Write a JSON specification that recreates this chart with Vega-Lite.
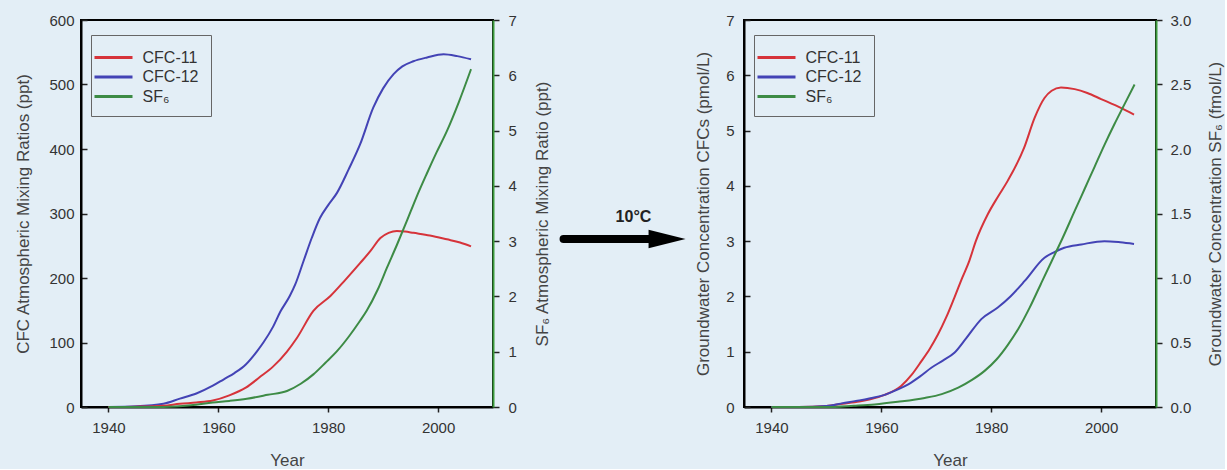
{
  "$schema": "https://vega.github.io/schema/vega-lite/v6.json",
  "background": "#e3eef6",
  "padding": {"left": 13, "top": 12, "right": 0, "bottom": 0},
  "spacing": 0,
  "datasets": {
    "atm_cfc": [
      {"year": 1940, "series": "CFC-12", "value": 0},
      {"year": 1945, "series": "CFC-12", "value": 1},
      {"year": 1950, "series": "CFC-12", "value": 5},
      {"year": 1953, "series": "CFC-12", "value": 13},
      {"year": 1956, "series": "CFC-12", "value": 21},
      {"year": 1959, "series": "CFC-12", "value": 33},
      {"year": 1961, "series": "CFC-12", "value": 43},
      {"year": 1963, "series": "CFC-12", "value": 53},
      {"year": 1965, "series": "CFC-12", "value": 66},
      {"year": 1967, "series": "CFC-12", "value": 86},
      {"year": 1968.2, "series": "CFC-12", "value": 100},
      {"year": 1970, "series": "CFC-12", "value": 125},
      {"year": 1971.3, "series": "CFC-12", "value": 148},
      {"year": 1973, "series": "CFC-12", "value": 172},
      {"year": 1974, "series": "CFC-12", "value": 190},
      {"year": 1975.5, "series": "CFC-12", "value": 226},
      {"year": 1977, "series": "CFC-12", "value": 262},
      {"year": 1978.5, "series": "CFC-12", "value": 293},
      {"year": 1980, "series": "CFC-12", "value": 313},
      {"year": 1981.6, "series": "CFC-12", "value": 332},
      {"year": 1983.7, "series": "CFC-12", "value": 368},
      {"year": 1985.8, "series": "CFC-12", "value": 407},
      {"year": 1988.2, "series": "CFC-12", "value": 464},
      {"year": 1990, "series": "CFC-12", "value": 494},
      {"year": 1991.9, "series": "CFC-12", "value": 516},
      {"year": 1993.5, "series": "CFC-12", "value": 528},
      {"year": 1995.5, "series": "CFC-12", "value": 536},
      {"year": 1998, "series": "CFC-12", "value": 542},
      {"year": 2001, "series": "CFC-12", "value": 547},
      {"year": 2003.5, "series": "CFC-12", "value": 544},
      {"year": 2006, "series": "CFC-12", "value": 539},
      {"year": 1940, "series": "CFC-11", "value": 0},
      {"year": 1945, "series": "CFC-11", "value": 0.5},
      {"year": 1950, "series": "CFC-11", "value": 2},
      {"year": 1953, "series": "CFC-11", "value": 5},
      {"year": 1956, "series": "CFC-11", "value": 7},
      {"year": 1959, "series": "CFC-11", "value": 10},
      {"year": 1962, "series": "CFC-11", "value": 18},
      {"year": 1965, "series": "CFC-11", "value": 30},
      {"year": 1967.5, "series": "CFC-11", "value": 46},
      {"year": 1970, "series": "CFC-11", "value": 63},
      {"year": 1972.5, "series": "CFC-11", "value": 86},
      {"year": 1974.3, "series": "CFC-11", "value": 107},
      {"year": 1977.3, "series": "CFC-11", "value": 149},
      {"year": 1980.4, "series": "CFC-11", "value": 172},
      {"year": 1983, "series": "CFC-11", "value": 196},
      {"year": 1985.8, "series": "CFC-11", "value": 223},
      {"year": 1987.7, "series": "CFC-11", "value": 242},
      {"year": 1989.5, "series": "CFC-11", "value": 262},
      {"year": 1991, "series": "CFC-11", "value": 270},
      {"year": 1992.5, "series": "CFC-11", "value": 273},
      {"year": 1994, "series": "CFC-11", "value": 272},
      {"year": 1995.5, "series": "CFC-11", "value": 270},
      {"year": 1998.5, "series": "CFC-11", "value": 266},
      {"year": 2001.6, "series": "CFC-11", "value": 260},
      {"year": 2004, "series": "CFC-11", "value": 255},
      {"year": 2006, "series": "CFC-11", "value": 249}
    ],
    "atm_sf6": [
      {"year": 1940, "series": "SF₆", "value": 0},
      {"year": 1950, "series": "SF₆", "value": 0},
      {"year": 1955, "series": "SF₆", "value": 0.03},
      {"year": 1959, "series": "SF₆", "value": 0.08},
      {"year": 1962, "series": "SF₆", "value": 0.11},
      {"year": 1965.2, "series": "SF₆", "value": 0.15},
      {"year": 1969, "series": "SF₆", "value": 0.22},
      {"year": 1972.5, "series": "SF₆", "value": 0.29},
      {"year": 1975, "series": "SF₆", "value": 0.42},
      {"year": 1977.3, "series": "SF₆", "value": 0.59},
      {"year": 1979.5, "series": "SF₆", "value": 0.8},
      {"year": 1981.6, "series": "SF₆", "value": 1.01},
      {"year": 1983.8, "series": "SF₆", "value": 1.28},
      {"year": 1985.8, "series": "SF₆", "value": 1.56},
      {"year": 1987, "series": "SF₆", "value": 1.74},
      {"year": 1989, "series": "SF₆", "value": 2.12},
      {"year": 1990.7, "series": "SF₆", "value": 2.52},
      {"year": 1992.5, "series": "SF₆", "value": 2.93},
      {"year": 1994.3, "series": "SF₆", "value": 3.36},
      {"year": 1996, "series": "SF₆", "value": 3.78},
      {"year": 1997.9, "series": "SF₆", "value": 4.21},
      {"year": 1999.7, "series": "SF₆", "value": 4.6},
      {"year": 2001.6, "series": "SF₆", "value": 4.99},
      {"year": 2003.8, "series": "SF₆", "value": 5.52},
      {"year": 2006, "series": "SF₆", "value": 6.11}
    ],
    "gw_cfc": [
      {"year": 1940, "series": "CFC-11", "value": 0},
      {"year": 1945, "series": "CFC-11", "value": 0},
      {"year": 1950, "series": "CFC-11", "value": 0.02},
      {"year": 1953, "series": "CFC-11", "value": 0.06},
      {"year": 1956, "series": "CFC-11", "value": 0.1},
      {"year": 1958, "series": "CFC-11", "value": 0.14},
      {"year": 1960.6, "series": "CFC-11", "value": 0.22},
      {"year": 1963.6, "series": "CFC-11", "value": 0.38},
      {"year": 1965.5, "series": "CFC-11", "value": 0.58},
      {"year": 1967.3, "series": "CFC-11", "value": 0.83},
      {"year": 1968.8, "series": "CFC-11", "value": 1.05},
      {"year": 1970.3, "series": "CFC-11", "value": 1.31},
      {"year": 1971.8, "series": "CFC-11", "value": 1.62},
      {"year": 1973.3, "series": "CFC-11", "value": 1.98},
      {"year": 1974.7, "series": "CFC-11", "value": 2.33},
      {"year": 1976, "series": "CFC-11", "value": 2.64},
      {"year": 1977.2, "series": "CFC-11", "value": 3.0},
      {"year": 1979.4, "series": "CFC-11", "value": 3.49},
      {"year": 1981.2, "series": "CFC-11", "value": 3.8},
      {"year": 1983, "series": "CFC-11", "value": 4.09},
      {"year": 1986, "series": "CFC-11", "value": 4.69},
      {"year": 1987.9, "series": "CFC-11", "value": 5.23},
      {"year": 1989.7, "series": "CFC-11", "value": 5.59},
      {"year": 1991, "series": "CFC-11", "value": 5.72},
      {"year": 1992.7, "series": "CFC-11", "value": 5.78},
      {"year": 1995.2, "series": "CFC-11", "value": 5.75},
      {"year": 1997.5, "series": "CFC-11", "value": 5.68},
      {"year": 2000, "series": "CFC-11", "value": 5.57},
      {"year": 2003.6, "series": "CFC-11", "value": 5.41},
      {"year": 2006, "series": "CFC-11", "value": 5.29},
      {"year": 1940, "series": "CFC-12", "value": 0},
      {"year": 1945, "series": "CFC-12", "value": 0},
      {"year": 1950, "series": "CFC-12", "value": 0.02},
      {"year": 1953, "series": "CFC-12", "value": 0.07},
      {"year": 1956, "series": "CFC-12", "value": 0.12},
      {"year": 1958, "series": "CFC-12", "value": 0.16},
      {"year": 1960.6, "series": "CFC-12", "value": 0.22},
      {"year": 1962.8, "series": "CFC-12", "value": 0.31},
      {"year": 1964.9, "series": "CFC-12", "value": 0.41},
      {"year": 1967, "series": "CFC-12", "value": 0.55},
      {"year": 1969.1, "series": "CFC-12", "value": 0.71},
      {"year": 1971.2, "series": "CFC-12", "value": 0.84},
      {"year": 1973.3, "series": "CFC-12", "value": 0.98},
      {"year": 1975.5, "series": "CFC-12", "value": 1.25},
      {"year": 1978.2, "series": "CFC-12", "value": 1.59},
      {"year": 1981.2, "series": "CFC-12", "value": 1.8},
      {"year": 1983.5, "series": "CFC-12", "value": 2.0},
      {"year": 1986.1, "series": "CFC-12", "value": 2.28},
      {"year": 1989.7, "series": "CFC-12", "value": 2.7},
      {"year": 1991.5, "series": "CFC-12", "value": 2.8},
      {"year": 1993.3, "series": "CFC-12", "value": 2.88},
      {"year": 1996.4, "series": "CFC-12", "value": 2.94},
      {"year": 2000.6, "series": "CFC-12", "value": 3.0},
      {"year": 2003.5, "series": "CFC-12", "value": 2.98},
      {"year": 2006, "series": "CFC-12", "value": 2.95}
    ],
    "gw_sf6": [
      {"year": 1940, "series": "SF₆", "value": 0},
      {"year": 1950, "series": "SF₆", "value": 0},
      {"year": 1955, "series": "SF₆", "value": 0.01},
      {"year": 1958.8, "series": "SF₆", "value": 0.02},
      {"year": 1963, "series": "SF₆", "value": 0.04},
      {"year": 1967.9, "series": "SF₆", "value": 0.07},
      {"year": 1971, "series": "SF₆", "value": 0.1},
      {"year": 1974, "series": "SF₆", "value": 0.15},
      {"year": 1976.5, "series": "SF₆", "value": 0.21},
      {"year": 1978.8, "series": "SF₆", "value": 0.28},
      {"year": 1981, "series": "SF₆", "value": 0.37},
      {"year": 1983, "series": "SF₆", "value": 0.48},
      {"year": 1985, "series": "SF₆", "value": 0.61},
      {"year": 1987, "series": "SF₆", "value": 0.77},
      {"year": 1989, "series": "SF₆", "value": 0.95},
      {"year": 1991, "series": "SF₆", "value": 1.13},
      {"year": 1993, "series": "SF₆", "value": 1.31},
      {"year": 1995.2, "series": "SF₆", "value": 1.52},
      {"year": 1997, "series": "SF₆", "value": 1.69},
      {"year": 1998.8, "series": "SF₆", "value": 1.86},
      {"year": 2000.6, "series": "SF₆", "value": 2.03},
      {"year": 2002.4, "series": "SF₆", "value": 2.19},
      {"year": 2004.3, "series": "SF₆", "value": 2.35},
      {"year": 2006.1, "series": "SF₆", "value": 2.5}
    ],
    "arrow": [
      {"start": 0.082, "end": 0.72, "tip": 0.816, "level": 0.434, "label": "10°C", "labelX": 0.578, "labelY": 0.49}
    ]
  },
  "hconcat": [
    {
      "width": 412,
      "height": 387,
      "view": {"stroke": "black", "strokeWidth": 2},
      "layer": [
        {
          "layer": [
            {
              "data": {"name": "atm_cfc"},
              "mark": {"type": "line", "strokeWidth": 2, "interpolate": "monotone"},
              "encoding": {
                "x": {"field": "year", "type": "quantitative", "scale": {"domain": [1935, 2010], "nice": false, "zero": false},
                      "axis": {"title": "Year", "values": [1940, 1960, 1980, 2000], "format": "d", "tickSize": 5, "labelPadding": 8, "titlePadding": 17}},
                "y": {"field": "value", "type": "quantitative", "scale": {"domain": [0, 600], "nice": false},
                      "axis": {"title": "CFC Atmospheric Mixing Ratios (ppt)", "values": [0, 100, 200, 300, 400, 500, 600], "format": "d", "tickSize": -6, "labelPadding": 13, "titlePadding": 16}},
                "color": {"field": "series", "type": "nominal",
                          "scale": {"domain": ["CFC-11", "CFC-12", "SF₆"], "range": ["#d6333a", "#4343b5", "#3d8b45"]},
                          "legend": {"orient": "none", "legendX": 10, "legendY": 15, "title": null, "symbolType": "M-2,0H2", "symbolSize": 361, "symbolStrokeWidth": 3, "labelFontSize": 16, "labelColor": "#333", "labelOffset": 18, "rowPadding": 0.5, "padding": 11.5, "strokeColor": "#666"}}
              }
            },
            {
              "mark": {"type": "rule", "color": "black", "strokeWidth": 2},
              "encoding": {"y": {"datum": 600}}
            }
          ]
        },
        {
          "data": {"name": "atm_sf6"},
          "mark": {"type": "line", "strokeWidth": 2, "interpolate": "monotone"},
          "encoding": {
            "x": {"field": "year", "type": "quantitative"},
            "y": {"field": "value", "type": "quantitative", "scale": {"domain": [0, 7], "nice": false},
                  "axis": {"orient": "right", "title": "SF₆ Atmospheric Mixing Ratio (ppt)", "values": [0, 1, 2, 3, 4, 5, 6, 7], "format": "d", "domainColor": "#3c9a3c", "tickSize": 6, "labelPadding": 9, "titleAngle": 270, "titlePadding": 35}},
            "color": {"field": "series", "type": "nominal"}
          }
        }
      ],
      "resolve": {"scale": {"y": "independent"}}
    },
    {
      "width": 141,
      "height": 387,
      "view": {"stroke": null},
      "data": {"name": "arrow"},
      "layer": [
        {
          "mark": {"type": "rule", "strokeWidth": 8, "strokeCap": "round", "color": "black"},
          "encoding": {
            "x": {"field": "start", "type": "quantitative", "scale": {"domain": [0, 1]}, "axis": null},
            "x2": {"field": "end"},
            "y": {"field": "level", "type": "quantitative", "scale": {"domain": [0, 1]}, "axis": null}
          }
        },
        {
          "mark": {"type": "point", "shape": "M-1,-0.5L1,0L-1,0.5Z", "size": 1369, "filled": true, "opacity": 1, "color": "black"},
          "encoding": {
            "x": {"field": "tip", "type": "quantitative"},
            "y": {"field": "level", "type": "quantitative"}
          }
        },
        {
          "mark": {"type": "text", "fontSize": 16, "fontWeight": "bold", "color": "#222"},
          "encoding": {
            "x": {"field": "labelX", "type": "quantitative"},
            "y": {"field": "labelY", "type": "quantitative"},
            "text": {"field": "label"}
          }
        }
      ]
    },
    {
      "width": 412,
      "height": 387,
      "view": {"stroke": "black", "strokeWidth": 2},
      "layer": [
        {
          "layer": [
            {
              "data": {"name": "gw_cfc"},
              "mark": {"type": "line", "strokeWidth": 2, "interpolate": "monotone"},
              "encoding": {
                "x": {"field": "year", "type": "quantitative", "scale": {"domain": [1935, 2010], "nice": false, "zero": false},
                      "axis": {"title": "Year", "values": [1940, 1960, 1980, 2000], "format": "d", "tickSize": 5, "labelPadding": 8, "titlePadding": 17}},
                "y": {"field": "value", "type": "quantitative", "scale": {"domain": [0, 7], "nice": false},
                      "axis": {"title": "Groundwater Concentration CFCs (pmol/L)", "values": [0, 1, 2, 3, 4, 5, 6, 7], "format": "d", "tickSize": -6, "labelPadding": 16, "titlePadding": 13}},
                "color": {"field": "series", "type": "nominal",
                          "scale": {"domain": ["CFC-11", "CFC-12", "SF₆"], "range": ["#d6333a", "#4343b5", "#3d8b45"]},
                          "legend": {"orient": "none", "legendX": 10, "legendY": 15, "title": null, "symbolType": "M-2,0H2", "symbolSize": 361, "symbolStrokeWidth": 3, "labelFontSize": 16, "labelColor": "#333", "labelOffset": 18, "rowPadding": 0.5, "padding": 11.5, "strokeColor": "#666"}}
              }
            },
            {
              "mark": {"type": "rule", "color": "black", "strokeWidth": 2},
              "encoding": {"y": {"datum": 7}}
            }
          ]
        },
        {
          "data": {"name": "gw_sf6"},
          "mark": {"type": "line", "strokeWidth": 2, "interpolate": "monotone"},
          "encoding": {
            "x": {"field": "year", "type": "quantitative"},
            "y": {"field": "value", "type": "quantitative", "scale": {"domain": [0, 3], "nice": false},
                  "axis": {"orient": "right", "title": "Groundwater Concentration SF₆ (fmol/L)", "values": [0, 0.5, 1, 1.5, 2, 2.5, 3], "format": ".1f", "domainColor": "#3c9a3c", "tickSize": 6, "labelPadding": 8, "titleAngle": 270, "titlePadding": 34}},
            "color": {"field": "series", "type": "nominal"}
          }
        }
      ],
      "resolve": {"scale": {"y": "independent"}}
    }
  ],
  "resolve": {
    "scale": {"x": "independent", "y": "independent", "color": "independent"},
    "legend": {"color": "independent"}
  },
  "config": {
    "font": "Liberation Sans",
    "view": {"stroke": "black", "strokeWidth": 2},
    "axis": {
      "grid": false,
      "labelFontSize": 15,
      "labelColor": "#333",
      "titleFontSize": 17,
      "titleColor": "#444",
      "titleFontWeight": "normal",
      "domainColor": "black",
      "domainWidth": 2,
      "tickColor": "#222",
      "tickWidth": 1.5
    }
  }
}
